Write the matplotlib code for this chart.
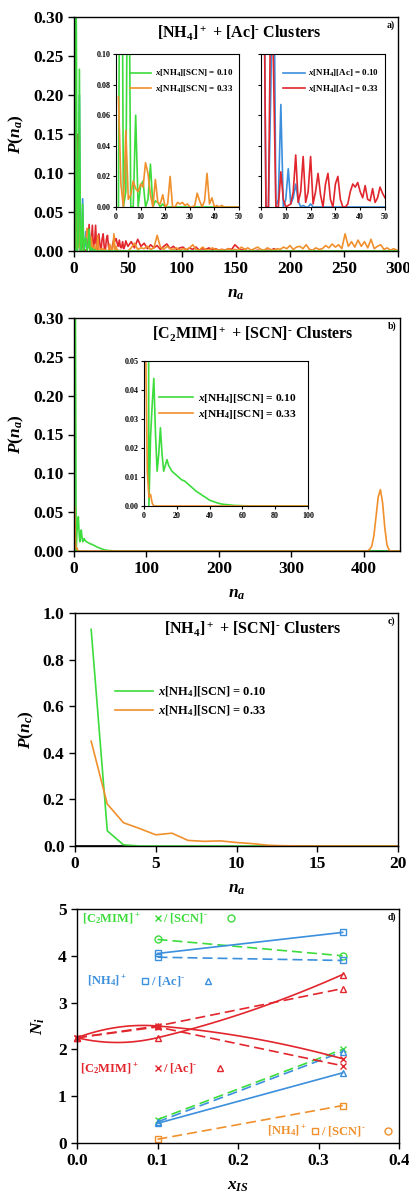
import numpy as np
import matplotlib.pyplot as plt
from matplotlib.lines import Line2D

plt.rcParams['font.family'] = ['Liberation Serif', 'DejaVu Sans']
plt.rcParams['font.weight'] = 'bold'
plt.rcParams['mathtext.fontset'] = 'custom'
plt.rcParams['mathtext.rm'] = 'Liberation Serif:bold'
plt.rcParams['mathtext.it'] = 'Liberation Serif:bold:italic'
plt.rcParams['mathtext.bf'] = 'Liberation Serif:bold'
plt.rcParams['axes.linewidth'] = 1.0
plt.rcParams['xtick.major.size'] = 4
plt.rcParams['ytick.major.size'] = 4

GREEN = '#3ddc3d'
ORANGE = '#f0902c'
BLUE = '#3b8fdd'
RED = '#e2262d'

MINUS = r'$^\text{-}$'

# ---- a) [NH4]+ + [Ac]- clusters, P(n) for n = 1..50 ----
n_a = np.arange(1, 51)
scn10_a = [0.0, 0.34, 0.0, 0.01, 0.233, 0.0, 0.0, 0.060, 0.0, 0.014,
           0.017, 0.0, 0.005, 0.028, 0.0, 0.004, 0.003, 0.0, 0.002, 0.0] + [0.0] * 30
scn33_a = [0.072, 0.015, 0.0, 0.050, 0.005, 0.008, 0.017, 0.012, 0.010, 0.015,
           0.013, 0.029, 0.022, 0.008, 0.0, 0.018, 0.003, 0.002, 0.008, 0.0,
           0.002, 0.020, 0.0, 0.0, 0.003, 0.002, 0.003, 0.001, 0.002, 0.0,
           0.0, 0.001, 0.009, 0.004, 0.0, 0.004, 0.022, 0.002, 0.006, 0.0,
           0.001, 0.0, 0.001, 0.0, 0.0, 0.0, 0.0, 0.0, 0.0, 0.0]
ac10_a = [0.20, 0.0, 0.0, 0.08, 0.20, 0.0, 0.005, 0.067, 0.0, 0.005,
          0.025, 0.002, 0.006, 0.015, 0.004, 0.0, 0.001, 0.0, 0.0, 0.002] + [0.0] * 30
ac33_a = [0.20, 0.0, 0.0, 0.15, 0.094, 0.0, 0.0, 0.023, 0.005, 0.0,
          0.001, 0.002, 0.010, 0.034, 0.003, 0.010, 0.033, 0.003, 0.010, 0.033,
          0.002, 0.010, 0.022, 0.008, 0.0, 0.015, 0.022, 0.005, 0.0, 0.015,
          0.020, 0.005, 0.0, 0.0, 0.002, 0.010, 0.015, 0.013, 0.016, 0.010,
          0.006, 0.014, 0.005, 0.004, 0.012, 0.003, 0.006, 0.013, 0.009, 0.006]

# large-cluster tails, sampled every 3 from n = 53
ac33_tail = [0.012, 0.004, 0.015, 0.006, 0.010, 0.003, 0.008, 0.004, 0.007, 0.002,
             0.006, 0.009, 0.003, 0.006, 0.002, 0.004, 0.005, 0.001, 0.004, 0.002,
             0.005, 0.001, 0.003, 0.002, 0.004, 0.001, 0.003, 0.001, 0.002, 0.001,
             0.003, 0.002, 0.008, 0.004, 0.001, 0.002, 0.0, 0.001, 0.0, 0.001,
             0.0, 0.0, 0.001, 0.0, 0.003, 0.0, 0.0, 0.0, 0.0, 0.0]
scn33_tail = [0.004, 0.010, 0.002, 0.004, 0.003, 0.006, 0.002, 0.004, 0.020, 0.005,
              0.002, 0.006, 0.003, 0.002, 0.004, 0.001, 0.003, 0.002, 0.004, 0.008,
              0.002, 0.001, 0.005, 0.002, 0.001, 0.004, 0.002, 0.001, 0.002, 0.001,
              0.003, 0.001, 0.002, 0.001, 0.005, 0.002, 0.004, 0.001, 0.003, 0.005,
              0.002, 0.001, 0.004, 0.002, 0.001, 0.003, 0.002, 0.005, 0.003, 0.007,
              0.002, 0.005, 0.006, 0.003, 0.008, 0.002, 0.001, 0.004, 0.002, 0.003,
              0.007, 0.004, 0.009, 0.005, 0.008, 0.003, 0.022, 0.006, 0.012, 0.005,
              0.014, 0.006, 0.012, 0.004, 0.015, 0.003, 0.006, 0.008, 0.002, 0.004,
              0.001, 0.003, 0.001]
n_ac33_tail = 53 + 3 * np.arange(len(ac33_tail))
n_scn33_tail = 53 + 3 * np.arange(len(scn33_tail))

# ---- b) [C2MIM]+ + [SCN]- clusters ----
n_b_scn10 = list(range(1, 31)) + [32, 34, 36, 38, 40, 42, 45, 48, 50, 55, 60, 67, 100, 450]
scn10_b = [0.32, 0.30, 0.0, 0.024, 0.035, 0.044, 0.025, 0.012, 0.018, 0.027,
           0.018, 0.012, 0.014, 0.016, 0.014, 0.013, 0.012, 0.0115, 0.011, 0.0105,
           0.010, 0.0095, 0.009, 0.0088, 0.0085, 0.008, 0.0075, 0.007, 0.0065, 0.006,
           0.005, 0.0043, 0.0035, 0.0028, 0.002, 0.0016, 0.001, 0.0006, 0.0005, 0.0002,
           0.0001, 0.0, 0.0, 0.0]
n_b_scn33 = [1, 2, 3, 4, 5, 6, 400, 405, 408, 411, 414, 417, 420, 423, 426, 429, 432, 435, 438, 450]
scn33_b = [0.057, 0.012, 0.003, 0.004, 0.001, 0.0, 0.0, 0.0, 0.002, 0.006,
           0.020, 0.045, 0.070, 0.079, 0.062, 0.030, 0.008, 0.001, 0.0, 0.0]
n_b_pure = [398, 433]
pure_b = [0.0, 0.0]

# ---- c) [NH4]+ + [SCN]- clusters ----
n_c = np.arange(1, 21)
scn10_c = [0.93, 0.065, 0.005, 0.0, 0.0, 0.0, 0.0, 0.0, 0.0, 0.0,
           0.0, 0.0, 0.0, 0.0, 0.0, 0.0, 0.0, 0.0, 0.0, 0.0]
scn33_c = [0.45, 0.18, 0.10, 0.075, 0.048, 0.055, 0.024, 0.020, 0.022, 0.015,
           0.010, 0.003, 0.001, 0.0005, 0.0003, 0.0002, 0.0001, 0.0, 0.0, 0.0]
n_c_pure = [0, 1, 2, 3, 3.7]
pure_c = [0.0, 0.0, 0.0, 0.0, 0.0]

# ---- d) coordination numbers vs ionic-salt fraction ----
x_is = [0.1, 0.33]
x_is0 = [0.0, 0.1, 0.33]
c2_scn_scn = [4.35, 4.00]      # green circles, dashed
c2_scn_c2 = [0.50, 2.00]       # green crosses, dashed
nh4_ac_sq_solid = [4.05, 4.50]
nh4_ac_sq_dash = [3.97, 3.90]
nh4_ac_tri_solid = [0.42, 1.50]
nh4_ac_tri_dash = [0.45, 1.95]
c2_ac_x_solid = [2.25, 2.50, 1.80]
c2_ac_x_dash = [2.25, 2.48, 1.65]
c2_ac_tri_solid = [2.25, 2.25, 3.60]
c2_ac_tri_dash = [2.25, 2.50, 3.30]
nh4_scn_sq = [0.08, 0.80]


def smooth_curve(xk, yk, num=60):
    # piecewise cubic Hermite, chord tangents inside, mirrored tangents at the ends
    xk = np.asarray(xk, float)
    yk = np.asarray(yk, float)
    d = np.diff(yk) / np.diff(xk)
    s = np.zeros(len(xk))
    for i in range(1, len(xk) - 1):
        s[i] = (yk[i + 1] - yk[i - 1]) / (xk[i + 1] - xk[i - 1])
    s[0] = 2 * d[0] - s[1]
    s[-1] = 2 * d[-1] - s[-2]
    xs_all, ys_all = [], []
    for i in range(len(xk) - 1):
        h = xk[i + 1] - xk[i]
        t = np.linspace(0, 1, num)
        h00 = 2 * t ** 3 - 3 * t ** 2 + 1
        h10 = t ** 3 - 2 * t ** 2 + t
        h01 = -2 * t ** 3 + 3 * t ** 2
        h11 = t ** 3 - t ** 2
        xs_all.append(xk[i] + t * h)
        ys_all.append(h00 * yk[i] + h10 * h * s[i] + h01 * yk[i + 1] + h11 * h * s[i + 1])
    return np.concatenate(xs_all), np.concatenate(ys_all)


W, H = 410, 1199
fig = plt.figure(figsize=(W / 100, H / 100), dpi=100)


def box(x0, y0, x1, y1):
    return [x0 / W, 1 - y1 / H, (x1 - x0) / W, (y1 - y0) / H]


TICK = 12.5
LAB = 12.5
TITLE = 11.5


def style_main(ax):
    ax.tick_params(labelsize=TICK, direction='out', top=False, right=False, width=1)
    for lab in ax.get_xticklabels() + ax.get_yticklabels():
        lab.set_fontweight('bold')


def style_inset(ax):
    ax.tick_params(labelsize=5.8, direction='out', length=2.5, width=0.8, pad=1.5)
    for s in ax.spines.values():
        s.set_linewidth(0.8)


lw = 1.2

# ---------------- panel a ----------------
ax = fig.add_axes(box(74, 17, 398, 251))
ax.plot(n_a, ac10_a, color=BLUE, lw=lw)
ax.plot(np.r_[n_a, n_ac33_tail, 300], np.r_[ac33_a, ac33_tail, 0.0], color=RED, lw=lw)
ax.plot(np.r_[n_a, n_scn33_tail], np.r_[scn33_a, scn33_tail], color=ORANGE, lw=lw)
ax.plot(np.r_[n_a, 300], np.r_[scn10_a, 0.0], color=GREEN, lw=lw)
ax.set_xlim(0, 300)
ax.set_ylim(0, 0.30)
ax.set_xticks(np.arange(0, 301, 50))
ax.set_yticks(np.arange(0, 0.301, 0.05))
ax.yaxis.set_major_formatter(plt.FormatStrFormatter('%.2f'))
style_main(ax)
ax.set_xlabel(r'$n_a$', fontsize=LAB, labelpad=6)
ax.set_ylabel(r'$P(n_a)$', fontsize=LAB, labelpad=5)
ax.text(0.51, 0.935, r'[NH$_4$]$^+$ + [Ac]' + MINUS + ' Clusters', transform=ax.transAxes,
        ha='center', va='center', fontsize=TITLE, fontweight='bold')
ax.text(0.99, 0.965, 'a)', transform=ax.transAxes, ha='right', va='center', fontsize=7)

leg_kw = dict(loc='upper right', bbox_to_anchor=(1.02, 0.96), frameon=False, fontsize=6.5,
              handlelength=2.4, handletextpad=0.4, labelspacing=0.45)

ins = fig.add_axes(box(116, 54, 239, 207))
ins.plot(n_a, scn10_a, color=GREEN, lw=lw, label=r'$x$[NH$_4$][SCN] = 0.10')
ins.plot(n_a, scn33_a, color=ORANGE, lw=lw, label=r'$x$[NH$_4$][SCN] = 0.33')
ins.set_xlim(0, 50)
ins.set_ylim(0, 0.10)
ins.set_xticks(np.arange(0, 51, 10))
ins.set_yticks(np.arange(0, 0.101, 0.02))
ins.yaxis.set_major_formatter(plt.FormatStrFormatter('%.2f'))
style_inset(ins)
ins.legend(**leg_kw)

ins = fig.add_axes(box(261, 54, 385, 207))
ins.plot(n_a, ac33_a, color=RED, lw=lw, zorder=2)
ins.plot(n_a, ac10_a, color=BLUE, lw=lw, zorder=1)
ins.set_xlim(0, 50)
ins.set_ylim(0, 0.10)
ins.set_xticks(np.arange(0, 51, 10))
ins.set_yticks(np.arange(0, 0.101, 0.02))
ins.set_yticklabels([])
style_inset(ins)
ins.legend(handles=[Line2D([], [], color=BLUE, lw=lw), Line2D([], [], color=RED, lw=lw)],
           labels=[r'$x$[NH$_4$][Ac] = 0.10', r'$x$[NH$_4$][Ac] = 0.33'], **leg_kw)

# ---------------- panel b ----------------
ax = fig.add_axes(box(74, 318, 400, 551))
ax.plot(n_b_pure, pure_b, color='black', lw=lw)
ax.plot(n_b_scn10, scn10_b, color=GREEN, lw=lw)
ax.plot(n_b_scn33, scn33_b, color=ORANGE, lw=lw)
ax.set_xlim(0, 450)
ax.set_ylim(0, 0.30)
ax.set_xticks(np.arange(0, 401, 100))
ax.set_yticks(np.arange(0, 0.301, 0.05))
ax.yaxis.set_major_formatter(plt.FormatStrFormatter('%.2f'))
style_main(ax)
ax.set_xlabel(r'$n_a$', fontsize=LAB, labelpad=6)
ax.set_ylabel(r'$P(n_a)$', fontsize=LAB, labelpad=5)
ax.text(0.55, 0.935, r'[C$_2$MIM]$^+$ + [SCN]' + MINUS + ' Clusters', transform=ax.transAxes,
        ha='center', va='center', fontsize=TITLE, fontweight='bold')
ax.text(0.99, 0.965, 'b)', transform=ax.transAxes, ha='right', va='center', fontsize=7)

ins = fig.add_axes(box(144, 361, 308, 506))
ins.plot(n_b_scn10, scn10_b, color=GREEN, lw=lw, label=r'$x$[NH$_4$][SCN] = 0.10')
ins.plot(n_b_scn33, scn33_b, color=ORANGE, lw=lw, label=r'$x$[NH$_4$][SCN] = 0.33')
ins.set_xlim(0, 100)
ins.set_ylim(0, 0.05)
ins.set_xticks(np.arange(0, 101, 20))
ins.set_yticks(np.arange(0, 0.051, 0.01))
ins.yaxis.set_major_formatter(plt.FormatStrFormatter('%.2f'))
style_inset(ins)
ins.legend(loc='upper right', bbox_to_anchor=(0.995, 0.86), frameon=False, fontsize=8.2,
           handlelength=3.0, handletextpad=0.4, labelspacing=0.3)

# ---------------- panel c ----------------
ax = fig.add_axes(box(75, 613, 398, 846))
ax.plot(n_c_pure, pure_c, color='black', lw=lw)
ax.plot(n_c, scn10_c, color=GREEN, lw=lw, label=r'$x$[NH$_4$][SCN] = 0.10')
ax.plot(n_c, scn33_c, color=ORANGE, lw=lw, label=r'$x$[NH$_4$][SCN] = 0.33')
ax.set_xlim(0, 20)
ax.set_ylim(0, 1.0)
ax.set_xticks(np.arange(0, 21, 5))
ax.set_yticks(np.arange(0, 1.01, 0.2))
ax.yaxis.set_major_formatter(plt.FormatStrFormatter('%.1f'))
style_main(ax)
ax.set_xlabel(r'$n_a$', fontsize=LAB, labelpad=6)
ax.set_ylabel(r'$P(n_c)$', fontsize=LAB, labelpad=5)
ax.text(0.55, 0.935, r'[NH$_4$]$^+$ + [SCN]' + MINUS + ' Clusters', transform=ax.transAxes,
        ha='center', va='center', fontsize=TITLE, fontweight='bold')
ax.text(0.99, 0.965, 'c)', transform=ax.transAxes, ha='right', va='center', fontsize=7)
ax.legend(loc='upper left', bbox_to_anchor=(0.09, 0.74), frameon=False, fontsize=9,
          handlelength=3.0, handletextpad=0.4, labelspacing=0.35)

# ---------------- panel d ----------------
ax = fig.add_axes(box(77, 909, 399, 1143))
mk = dict(ms=5, mfc='none', mew=1.0, clip_on=False)
dash = (0, (6, 3))

ax.plot(x_is, c2_scn_scn, color=GREEN, ls=dash, marker='o', lw=lw, **mk)
ax.plot(x_is, c2_scn_c2, color=GREEN, ls=dash, marker='x', lw=lw, **mk)

ax.plot(x_is, nh4_ac_sq_solid, color=BLUE, ls='-', marker='s', lw=lw, **mk)
ax.plot(x_is, nh4_ac_sq_dash, color=BLUE, ls=dash, marker='s', lw=lw, **mk)
ax.plot(x_is, nh4_ac_tri_solid, color=BLUE, ls='-', marker='^', lw=lw, **mk)
ax.plot(x_is, nh4_ac_tri_dash, color=BLUE, ls=dash, marker='^', lw=lw, **mk)

for ys, m in ((c2_ac_x_solid, 'x'), (c2_ac_tri_solid, '^')):
    xs, yy = smooth_curve(x_is0, ys)
    ax.plot(xs, yy, color=RED, ls='-', lw=lw)
    ax.plot(x_is0, ys, color=RED, ls='none', marker=m, **mk)
ax.plot(x_is0, c2_ac_x_dash, color=RED, ls=dash, marker='x', lw=lw, **mk)
ax.plot(x_is0, c2_ac_tri_dash, color=RED, ls=dash, marker='^', lw=lw, **mk)

ax.plot(x_is, nh4_scn_sq, color=ORANGE, ls=dash, marker='s', lw=lw, **mk)

ax.set_xlim(0, 0.4)
ax.set_ylim(0, 5)
ax.set_xticks(np.arange(0, 0.41, 0.1))
ax.set_yticks(np.arange(0, 6, 1))
ax.xaxis.set_major_formatter(plt.FormatStrFormatter('%.1f'))
style_main(ax)
ax.set_xlabel(r'$x_{IS}$', fontsize=LAB, labelpad=6)
ax.set_ylabel(r'$N_i$', fontsize=LAB, labelpad=8)
ax.text(0.99, 0.965, 'd)', transform=ax.transAxes, ha='right', va='center', fontsize=7)

# key rows: label, first symbol, second label, second symbol
key_rows = [
    (GREEN, 0.006, 4.80, r'[C$_2$MIM]$^+$', 'x', 0.100, r'/ [SCN]' + MINUS, 'o', 0.191),
    (BLUE, 0.013, 3.47, r'[NH$_4$]$^+$', 's', 0.085, r'/ [Ac]' + MINUS, '^', 0.163),
    (RED, 0.004, 1.60, r'[C$_2$MIM]$^+$', 'x', 0.100, r'/ [Ac]' + MINUS, '^', 0.178),
    (ORANGE, 0.236, 0.26, r'[NH$_4$]$^+$', 's', 0.296, r'/ [SCN]' + MINUS, 'o', 0.386),
]
for col, xt, yt, t1, m1, xm1, t2, m2, xm2 in key_rows:
    ax.text(xt, yt, t1, color=col, fontsize=9, fontweight='bold', va='center', ha='left')
    ax.plot([xm1], [yt], color=col, marker=m1, ls='none', **mk)
    ax.text(xm1 + 0.007, yt, t2, color=col, fontsize=9, fontweight='bold', va='center', ha='left')
    ax.plot([xm2], [yt], color=col, marker=m2, ls='none', **mk)

fig.savefig('out.png', dpi=100)
